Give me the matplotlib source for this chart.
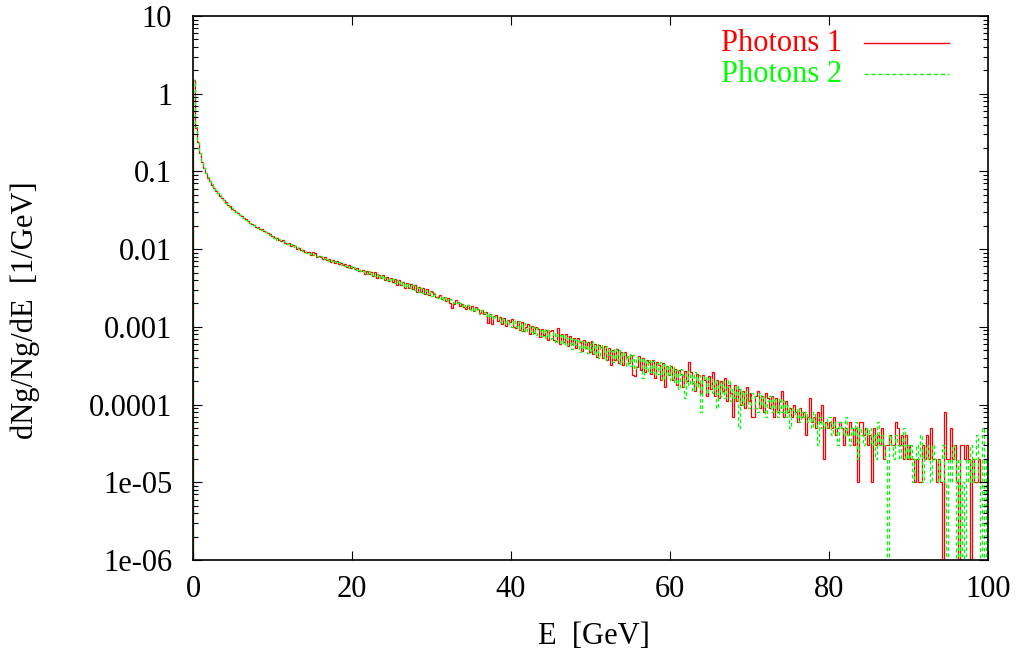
import numpy as np
import matplotlib
matplotlib.use("Agg")
import matplotlib.pyplot as plt
from matplotlib.lines import Line2D
from matplotlib.ticker import LogLocator, NullFormatter

plt.rcParams['font.family'] = ['Liberation Serif', 'DejaVu Serif']

# histogram of photon energies, 0.25 GeV bins from 0 to 100 GeV
bin_width = 0.25
# bin contents in units of 1e-5 /GeV (one photon per bin)
y_unit = 1e-5

photons1 = [
    151000, 36300, 24050, 17350, 13230, 10940, 9580, 8290, 7620, 6730,
    6190, 5660, 5270, 4880, 4590, 4250, 3990, 3740, 3570, 3330,
    3170, 3000, 2900, 2730, 2650, 2490, 2410, 2270, 2200, 2100,
    2050, 1950, 1910, 1830, 1790, 1700, 1670, 1590, 1560, 1490,
    1484, 1373, 1407, 1298, 1280, 1293, 1205, 1178, 1206, 1094, 1114, 1096, 1007, 1033, 964, 982, 909, 932, 917, 842,
    920, 898, 802, 825, 781, 757, 786, 726, 753, 690, 730, 665, 702, 641, 660, 617, 647, 589, 616, 568,
    593, 549, 575, 523, 516, 545, 476, 520, 475, 511, 454, 505, 428, 470, 423, 469, 401, 444, 389, 423,
    380, 414, 349, 395, 345, 380, 319, 365, 316, 354, 303, 341, 284, 325, 277, 313, 265, 304, 256, 286,
    278, 262, 245, 239, 256, 229, 244, 216, 235, 204, 176, 196, 220, 207, 188, 199, 181, 171, 192, 168,
    186, 158, 179, 170, 150, 166, 145, 157, 112, 148, 108, 139, 143, 118, 135, 110, 129, 104, 122, 115,
    126, 101, 96, 120, 92, 115, 88, 100, 110, 80, 102, 83, 99, 94, 74, 95, 78, 92, 68, 88,
    90, 68, 65, 96, 60, 82, 63, 80, 56, 76, 60, 72, 53, 71, 64, 49, 68, 54, 63, 47,
    66, 45, 60, 41, 59, 55, 40, 57, 37, 53, 32, 51, 37, 52, 34, 48, 32, 47, 41, 34,
    44, 24, 23, 30, 42, 28, 40, 26, 38, 35, 25, 37, 22, 35, 32, 21, 34, 17, 31, 24,
    31, 21, 29, 18, 28, 25, 17, 27, 20, 35, 26, 19, 15, 25, 19, 14, 24, 21, 13, 23,
    16, 26, 13, 21, 12, 20, 15, 22, 11, 18, 14, 7, 18, 11, 16, 10, 15, 9, 17, 11,
    14, 7, 7, 13, 15, 9, 13, 8, 14, 12, 9, 13, 7, 12, 8, 11, 15, 7, 11, 8,
    9, 7, 10, 8, 6, 9, 7, 8, 4, 7, 12, 6, 7, 5, 8, 6, 10, 2, 6, 5,
    6, 5, 7, 4, 5, 6, 5, 3, 5, 4, 6, 5, 3, 5, 1, 6, 6, 4, 5, 3,
    4, 1, 5, 3, 4, 3, 5, 2, 3, 3, 4, 3, 3, 6, 5, 3, 4, 2, 4, 2,
    3, 2, 2, 1, 2, 1, 1, 3, 2, 4, 2, 5, 2, 2, 1, 2, 1, 0, 8, 2,
    2, 5, 2, 3, 1, 0, 3, 3, 2, 3, 2, 0, 2, 1, 1, 2, 1, 1, 1, 1,
]

photons2 = [
    148500, 36800, 23800, 17500, 13100, 11020, 9510, 8360, 7560, 6800,
    6140, 5720, 5230, 4920, 4550, 4290, 3960, 3780, 3530, 3370,
    3140, 3040, 2860, 2770, 2610, 2530, 2380, 2310, 2170, 2120,
    2030, 1990, 1880, 1850, 1760, 1740, 1650, 1610, 1540, 1510,
    1406, 1448, 1329, 1358, 1259, 1287, 1238, 1157, 1182, 1157, 1072, 1087, 1061, 991, 1009, 934, 957, 887, 875, 896,
    833, 858, 808, 789, 814, 754, 747, 762, 711, 729, 682, 704, 654, 683, 627, 650, 605, 625, 580, 598,
    560, 588, 536, 562, 519, 509, 530, 484, 517, 466, 496, 448, 476, 431, 459, 418, 443, 402, 428, 387,
    419, 372, 403, 356, 384, 338, 370, 329, 358, 315, 345, 296, 326, 283, 313, 271, 301, 262, 289, 250,
    251, 270, 259, 238, 230, 249, 221, 240, 212, 230, 219, 200, 194, 214, 203, 183, 196, 178, 189, 170,
    162, 181, 158, 171, 147, 164, 155, 139, 153, 132, 147, 126, 140, 135, 114, 131, 121, 109, 124, 102,
    100, 122, 104, 93, 118, 89, 111, 86, 96, 104, 81, 99, 78, 97, 90, 76, 95, 72, 90, 70,
    71, 87, 62, 81, 78, 60, 80, 56, 74, 71, 52, 70, 58, 69, 48, 66, 52, 64, 46, 61,
    48, 64, 44, 60, 40, 58, 54, 38, 56, 43, 49, 35, 53, 38, 50, 33, 48, 44, 31, 45,
    31, 44, 29, 41, 36, 40, 22, 39, 27, 37, 26, 36, 24, 34, 25, 35, 21, 33, 23, 32,
    21, 30, 19, 28, 16, 29, 24, 12, 27, 18, 25, 15, 26, 17, 24, 8, 21, 23, 14, 22,
    22, 14, 21, 9, 19, 13, 20, 12, 17, 21, 11, 16, 12, 18, 5, 16, 10, 15, 12, 9,
    10, 14, 13, 9, 8, 14, 10, 13, 7, 11, 13, 8, 12, 9, 7, 12, 8, 11, 7, 10,
    5, 9, 8, 7, 9, 6, 8, 7, 8, 6, 7, 5, 8, 6, 3, 7, 5, 6, 5, 7,
    7, 4, 6, 5, 3, 6, 5, 4, 7, 4, 3, 5, 4, 6, 2, 5, 4, 3, 5, 4,
    5, 3, 4, 2, 6, 3, 4, 3, 2, 0, 4, 3, 2, 4, 3, 2, 3, 5, 2, 3,
    2, 3, 1, 2, 3, 2, 4, 1, 2, 3, 2, 1, 3, 2, 2, 1, 2, 3, 1, 0,
    2, 1, 3, 2, 0, 2, 0, 1, 0, 2, 1, 3, 1, 2, 4, 1, 0, 5, 0, 2,
]

series_labels = ['Photons 1', 'Photons 2']
series_colors = ['#ff0000', '#00ff00']

ytick_values = [10, 1, 0.1, 0.01, 0.001, 0.0001, 1e-5, 1e-6]
ytick_labels = ['10', '1', '0.1', '0.01', '0.001', '0.0001', '1e-05', '1e-06']
xtick_values = [0, 20, 40, 60, 80, 100]

FS = 22
floor = 1e-9  # empty bins fall off the bottom of the log axis


def density(counts):
    d = np.asarray(counts, dtype=float) * y_unit
    return np.where(d > 0, d, floor)


W, H = 1019, 662
fig = plt.figure(figsize=(W / 100, H / 100), dpi=100)
ax = fig.add_axes([193 / W, 1 - 560 / H, 795 / W, 544 / H])

edges = np.arange(len(photons1) + 1) * bin_width
ax.stairs(density(photons1), edges, baseline=floor, color=series_colors[0], lw=0.9)
ax.stairs(density(photons2), edges, baseline=floor, color=series_colors[1], lw=0.9,
          linestyle=(0, (3, 2)))

ax.set_yscale('log')
ax.set_xlim(0, 100)
ax.set_ylim(1e-6, 10)

ax.set_xticks(xtick_values, [str(v) for v in xtick_values])
ax.set_yticks(ytick_values, ytick_labels)
ax.yaxis.set_minor_locator(LogLocator(base=10, subs=range(2, 10), numticks=20))
ax.yaxis.set_minor_formatter(NullFormatter())
ax.tick_params(which='both', direction='in', top=True, right=True, width=0.8)
ax.tick_params(which='major', length=6.5, labelsize=FS)
ax.tick_params(axis='x', which='major', pad=11)
ax.tick_params(axis='y', which='major', pad=15)
ax.tick_params(which='minor', length=3.5)
for s in ax.spines.values():
    s.set_linewidth(1.2)

fig.text(25 / W, 1 - 310 / H, 'dNg/Ng/dE  [1/GeV]', rotation=90,
         ha='center', va='center', fontsize=FS)
fig.text(594 / W, 1 - 637 / H, 'E  [GeV]', ha='center', va='center', fontsize=FS)

# gnuplot style key: coloured text, then a line sample
key_y = [0.950, 0.893]
for lab, col, ky, ls in zip(series_labels, series_colors, key_y, ['-', (0, (3, 2))]):
    ax.text(0.8164, ky, lab, color=col, ha='right', va='center', fontsize=FS,
            transform=ax.transAxes)
    ax.add_line(Line2D([0.844, 0.951], [ky, ky], color=col, lw=1.0, linestyle=ls,
                       transform=ax.transAxes))

fig.savefig('out.png', dpi=100)
